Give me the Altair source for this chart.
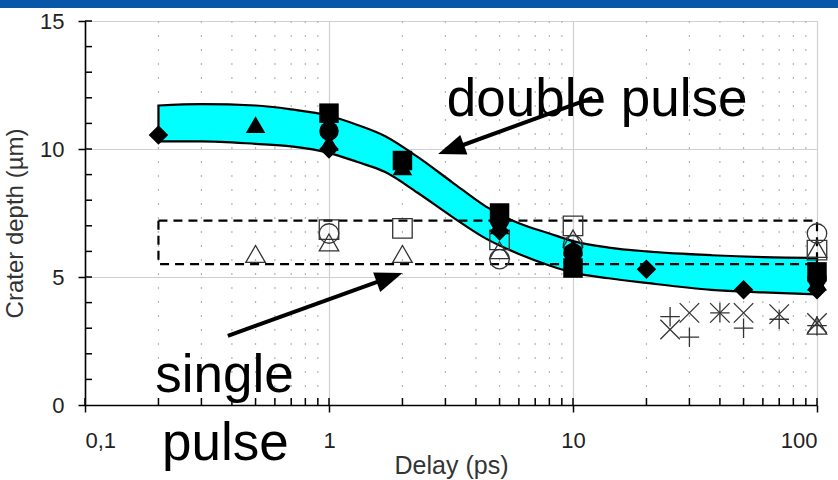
import math
import altair as alt
import pandas as pd

# Plot area size (pixels) and axis domains
W, H = 732, 384
X_DOM = [0.1, 100]
Y_DOM = [0, 15]

# Cyan band: upper and lower envelope of the double-pulse crater depth
band_delay = [0.2, 0.3, 0.5, 0.7, 1, 1.3, 1.7, 2.3, 3.2, 4.4, 6, 8, 10, 14, 20, 37, 60, 100]
band_upper = [11.7, 11.75, 11.7, 11.55, 11.3, 10.95, 10.5, 9.7, 8.7, 7.75, 7.1, 6.7, 6.4, 6.15, 6.0, 5.85, 5.78, 5.75]
band_lower = [10.3, 10.3, 10.2, 10.1, 9.85, 9.5, 9.1, 8.3, 7.35, 6.5, 5.9, 5.45, 5.17, 4.95, 4.77, 4.5, 4.4, 4.32]

# Double pulse measurements (filled symbols)
double_delay = [0.2, 0.5, 1, 1, 1, 1, 2, 2, 5, 5, 5, 5, 10, 10, 10, 10, 20, 50, 100, 100, 100, 100]
double_depth = [10.55, 10.95, 11.4, 10.7, 10.25, 10.0, 9.55, 9.3, 7.5, 7.2, 7.0, 6.8,
                6.15, 5.95, 5.6, 5.35, 5.3, 4.5, 5.2, 4.95, 4.8, 4.5]
double_shape = ["diamond", "triangle", "square", "circle", "triangle", "diamond", "square", "triangle",
                "square", "circle", "triangle", "diamond", "triangle", "circle", "diamond", "square",
                "diamond", "diamond", "square", "circle", "triangle", "diamond"]

# Single pulse measurements (open symbols)
single_delay = [0.5, 1, 1, 1, 2, 2, 5, 5, 5, 10, 10, 10, 100, 100, 100]
single_depth = [5.9, 6.85, 6.7, 6.35, 6.9, 5.9, 6.45, 6.05, 5.7, 7.0, 6.5, 6.25, 6.7, 6.1, 6.05]
single_shape = ["triangle", "square", "circle", "triangle", "square", "triangle", "square", "triangle",
                "circle", "square", "triangle", "circle", "circle", "triangle", "square"]

# Low-depth series (crosses, plus signs)
low_delay = [25, 30, 40, 50, 70, 100, 25, 30, 40, 50, 70, 100, 100]
low_depth = [2.95, 3.6, 3.6, 3.6, 3.55, 3.2, 3.45, 2.65, 3.6, 3.0, 3.35, 3.1, 3.1]
low_shape = ["x", "x", "x", "x", "x", "x", "plus", "plus", "plus", "plus", "plus", "plus", "triangle"]

# Dashed box enclosing the single pulse range
box_delay = [0.2, 100]
box_depth = [5.5, 7.2]

# Annotations and their arrows
ann_text = ["double pulse", "single", "pulse"]
ann_delay = [3.04, 0.194, 0.207]
ann_depth = [11.29, 0.51, -2.15]
arrow_from_delay = [12.0, 0.385]
arrow_from_depth = [12.0, 2.7]
arrow_to_delay = [2.8, 2.0]
arrow_to_depth = [9.8, 5.16]

# Axis ticks
x_major = [0.1, 1, 10, 100]
x_minor = [m * d for d in (0.1, 1, 10) for m in range(2, 10)]
y_major = [0, 5, 10, 15]
y_all = list(range(1, 16))

FONT = "Liberation Sans"


def px(x):
    lo, hi = math.log10(X_DOM[0]), math.log10(X_DOM[1])
    return (math.log10(x) - lo) / (hi - lo) * W


def py(y):
    return H - (y - Y_DOM[0]) / (Y_DOM[1] - Y_DOM[0]) * H


xscale = alt.Scale(type="log", domain=X_DOM)
yscale = alt.Scale(domain=Y_DOM, nice=False)

x_axis = alt.Axis(
    values=x_major, labelExpr="replace(format(datum.value, '~g'), '.', ',')",
    title="Delay (ps)", grid=True, gridColor="#d0d0d0", gridWidth=1.2,
    ticks=True, tickSize=7, tickColor="black", tickWidth=1.5,
    domainColor="black", domainWidth=1.6,
    labelFont=FONT, labelFontSize=22, labelColor="#222", labelPadding=18,
    titleFont=FONT, titleFontSize=25, titleFontWeight="normal", titleColor="#333",
    titleY=60, titleBaseline="middle",
)
y_axis = alt.Axis(
    values=y_major, title="Crater depth (µm)", grid=True, gridColor="#d0d0d0", gridWidth=1.2,
    ticks=True, tickSize=7, tickColor="black", tickWidth=1.5,
    domainColor="black", domainWidth=1.6,
    labelFont=FONT, labelFontSize=22, labelColor="#222", labelPadding=14,
    titleFont=FONT, titleFontSize=24, titleFontWeight="normal", titleColor="#333",
    titleX=-70, titleY=H / 2 + 10, titleAngle=-90, titleBaseline="middle",
)


def X(field):
    return alt.X(field, type="quantitative", scale=xscale, axis=x_axis)


def Y(field):
    return alt.Y(field, type="quantitative", scale=yscale, axis=y_axis)


band_df = pd.DataFrame({"delay": band_delay, "upper": band_upper, "lower": band_lower})
double_df = pd.DataFrame({"delay": double_delay, "depth": double_depth, "shape": double_shape})
single_df = pd.DataFrame({"delay": single_delay, "depth": single_depth, "shape": single_shape})
low_df = pd.DataFrame({"delay": low_delay, "depth": low_depth, "shape": low_shape})
box_df = pd.DataFrame({"x0": [box_delay[0]], "x1": [box_delay[1]], "y0": [box_depth[0]], "y1": [box_depth[1]]})
ann_df = pd.DataFrame({"delay": ann_delay, "depth": ann_depth, "text": ann_text})

# Arrow shafts stop a little short of the tip; heads are rotated along the shaft
shaft_rows, head_rows = [], []
for fx, fy, tx, ty in zip(arrow_from_delay, arrow_from_depth, arrow_to_delay, arrow_to_depth):
    dx, dy = px(tx) - px(fx), py(ty) - py(fy)
    length = math.hypot(dx, dy)
    ux, uy = dx / length, dy / length
    angle = math.degrees(math.atan2(dx, -dy)) % 360
    end_px, end_py = px(tx) - ux * 12, py(ty) - uy * 12
    end_x = 10 ** (end_px / W * 3 + math.log10(X_DOM[0]))
    end_y = (H - end_py) / H * (Y_DOM[1] - Y_DOM[0]) + Y_DOM[0]
    shaft_rows.append({"x0": fx, "y0": fy, "x1": end_x, "y1": end_y})
    head_rows.append({"delay": tx, "depth": ty, "angle": angle})
shaft_df = pd.DataFrame(shaft_rows)
head_df = pd.DataFrame(head_rows)

xtick_df = pd.DataFrame({"tick": x_major + x_minor, "base": [0] * (len(x_major) + len(x_minor))})
ytick_df = pd.DataFrame({"base": [0.1] * len(y_all), "tick": y_all})
minor_df = pd.DataFrame({"tick": x_minor})

shape_scale = alt.Scale(
    domain=["diamond", "triangle", "square", "circle", "x", "plus"],
    range=["diamond", "triangle-up", "square", "circle",
           "M-1,-1L1,1M-1,1L1,-1", "M-1,0L1,0M0,-1L0,1"],
)
size_filled = alt.Scale(domain=["diamond", "triangle", "square", "circle"], range=[400, 360, 240, 290])
size_open = alt.Scale(domain=["diamond", "triangle", "square", "circle"], range=[380, 380, 300, 330])
size_low = alt.Scale(domain=["x", "plus", "triangle"], range=[220, 200, 300])

minor_grid = alt.Chart(minor_df).mark_rule(color="#b5b5b5", strokeWidth=1.2, strokeDash=[2, 12]).encode(
    x=X("tick")
)

band = alt.Chart(band_df).mark_area(
    color="#00FFFF", stroke="black", strokeWidth=2.2, interpolate="monotone", opacity=1
).encode(x=X("delay"), y=Y("upper"), y2="lower")

box = alt.Chart(box_df).mark_rect(
    fill=None, stroke="black", strokeWidth=2.2, strokeDash=[9, 6]
).encode(x=X("x0"), x2="x1", y=Y("y0"), y2="y1")

open_pts = alt.Chart(single_df).mark_point(filled=False, color="#333", strokeWidth=1.3, opacity=1).encode(
    x=X("delay"), y=Y("depth"),
    shape=alt.Shape("shape:N", scale=shape_scale, legend=None),
    size=alt.Size("shape:N", scale=size_open, legend=None),
)

filled_pts = alt.Chart(double_df).mark_point(filled=True, color="black", opacity=1).encode(
    x=X("delay"), y=Y("depth"),
    shape=alt.Shape("shape:N", scale=shape_scale, legend=None),
    size=alt.Size("shape:N", scale=size_filled, legend=None),
)

low_pts = alt.Chart(low_df).mark_point(filled=False, color="#333", strokeWidth=1.3, opacity=1).encode(
    x=X("delay"), y=Y("depth"),
    shape=alt.Shape("shape:N", scale=shape_scale, legend=None),
    size=alt.Size("shape:N", scale=size_low, legend=None),
)

shafts = alt.Chart(shaft_df).mark_rule(color="black", strokeWidth=4).encode(
    x=X("x0"), x2="x1", y=Y("y0"), y2="y1"
)

heads = alt.Chart(head_df).mark_point(
    shape="M0,0L-0.38,1L0.38,1Z", filled=True, color="black", size=3000, opacity=1
).encode(x=X("delay"), y=Y("depth"), angle=alt.Angle("angle:Q", scale=None))

labels = alt.Chart(ann_df).mark_text(
    font=FONT, fontSize=53, color="black", align="left", baseline="alphabetic"
).encode(x=X("delay"), y=Y("depth"), text="text:N")

xticks_in = alt.Chart(xtick_df).mark_tick(
    orient="vertical", size=7, thickness=1.5, yOffset=-3.5, color="black", opacity=1
).encode(x=X("tick"), y=Y("base"))

yticks_in = alt.Chart(ytick_df).mark_tick(
    orient="horizontal", size=7, thickness=1.5, xOffset=3.5, color="black", opacity=1
).encode(x=X("base"), y=Y("tick"))

top_bar = alt.Chart(pd.DataFrame({"k": [0]})).mark_rect(color="#0756A8").encode(
    x=alt.value(-85), x2=alt.value(838 - 85), y=alt.value(-21), y2=alt.value(-13)
)

chart = alt.layer(
    minor_grid, band, box, open_pts, filled_pts, low_pts, shafts, heads, labels,
    xticks_in, yticks_in, top_bar
).properties(
    width=W, height=H,
    autosize=alt.AutoSizeParams(type="none"),
    padding={"left": 85, "top": 21, "right": 21, "bottom": 75},
    background="white",
).configure_view(stroke=None)

chart.save("out.html", embed_options={"renderer": "svg", "actions": False})
